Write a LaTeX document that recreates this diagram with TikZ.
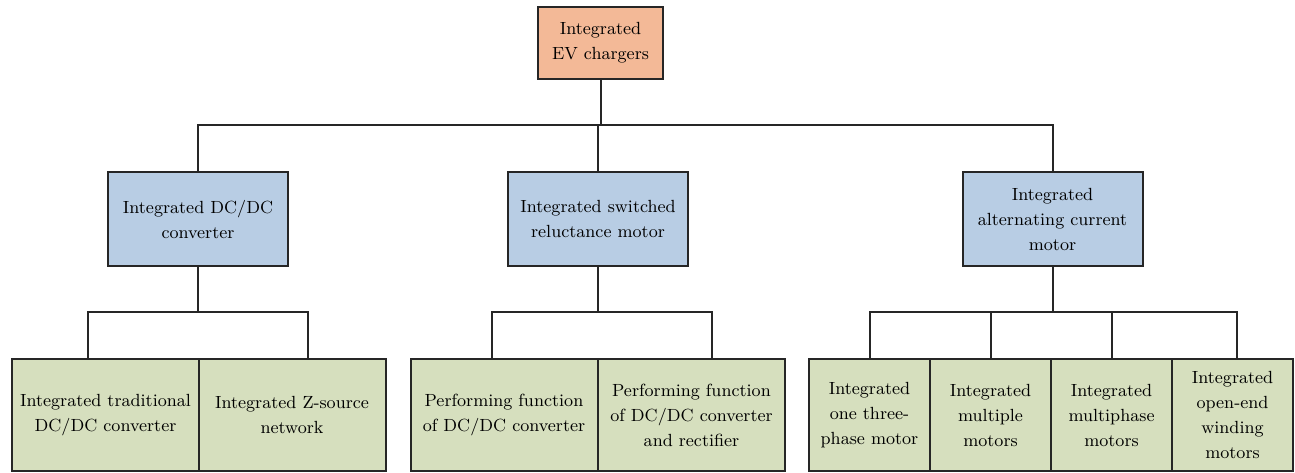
\documentclass[tikz,border=0pt]{standalone}
\usepackage{tikz}
\usetikzlibrary{positioning}
\definecolor{rootorange}{RGB}{243,185,151}
\definecolor{midblue}{RGB}{184,205,228}
\definecolor{leafgreen}{RGB}{214,223,190}
\tikzset{
	box/.style={draw=black!85, line width=1pt, align=center, text=black, inner sep=1pt, font=\fontsize{8.8}{12.5}\selectfont},
	rootbox/.style={box, fill=rootorange, minimum width=62.5pt, minimum height=36pt},
	midbox/.style={box, fill=midblue, minimum width=90pt, minimum height=47pt},
	leafbox/.style={box, fill=leafgreen, minimum width=93.5pt, minimum height=56pt},
	smallleaf/.style={leafbox, minimum width=60.5pt},
	link/.style={draw=black!85, line width=1pt}
}

\begin{document}
\begin{tikzpicture}[x=0.5pt,y=-0.5pt]
		\useasboundingbox (0,0) rectangle (1295,472);
		% bus heights
		\coordinate (bus1) at (0,125);
		\coordinate (bus2) at (0,312);
		
		% top
		\node[rootbox] (root) at (600.5,43) {Integrated\\EV chargers};
		
		% second level
		\node[midbox] (dc) at (198,219) {Integrated DC/DC\\converter};
		\node[midbox] (sr) at (598,219) {Integrated switched\\reluctance motor};
		\node[midbox] (ac) at (1052.5,219) {Integrated\\alternating current\\motor};
		
		% third level, left and middle
		\node[leafbox] (trad) at (105.5,415) {Integrated traditional\\DC/DC converter};
		\node[leafbox] (zs) at (292,415) {Integrated Z-source\\network};
		\node[leafbox] (pf) at (504,415) {Performing function\\of DC/DC converter};
		\node[leafbox] (pfr) at (691.5,415) {Performing function\\of DC/DC converter\\and rectifier};
		
		% third level, right
		\foreach \x/\nm/\txt in {869.5/one/{Integrated\\one three-\\phase motor},
			990.5/multi/{Integrated\\multiple\\motors},
			1111.5/mphase/{Integrated\\multiphase\\motors},
			1232.5/ow/{Integrated\\open-end\\winding\\motors}}{
			\node[smallleaf] (\nm) at (\x,415) {\txt};
		}
		
		% taps
		\coordinate (t1) at ([xshift=-8.75pt]trad.north);
		\coordinate (t2) at ([xshift=8pt]zs.north);
		\coordinate (t3) at ([xshift=-6pt]pf.north);
		\coordinate (t4) at ([xshift=10.25pt]pfr.north);
		\coordinate (t5) at ([xshift=2pt]ow.north);
		
		% lines
		\draw[link] (root.south) -- (root.south |- bus1);
		\draw[link] (dc.north) |- (bus1 -| ac.north) -- (ac.north);
		\draw[link] (sr.north) -- (sr.north |- bus1);
		
		\draw[link] (dc.south) -- (dc.south |- bus2);
		\draw[link] (t1) |- (bus2 -| t2) -- (t2);
		\draw[link] (sr.south) -- (sr.south |- bus2);
		\draw[link] (t3) |- (bus2 -| t4) -- (t4);
		\draw[link] (ac.south) -- (ac.south |- bus2);
		\draw[link] (one.north) |- (bus2 -| t5) -- (t5);
		\foreach \nm in {multi,mphase}{
			\draw[link] (\nm.north) -- (\nm.north |- bus2);
		}
	\end{tikzpicture}
\end{document}
